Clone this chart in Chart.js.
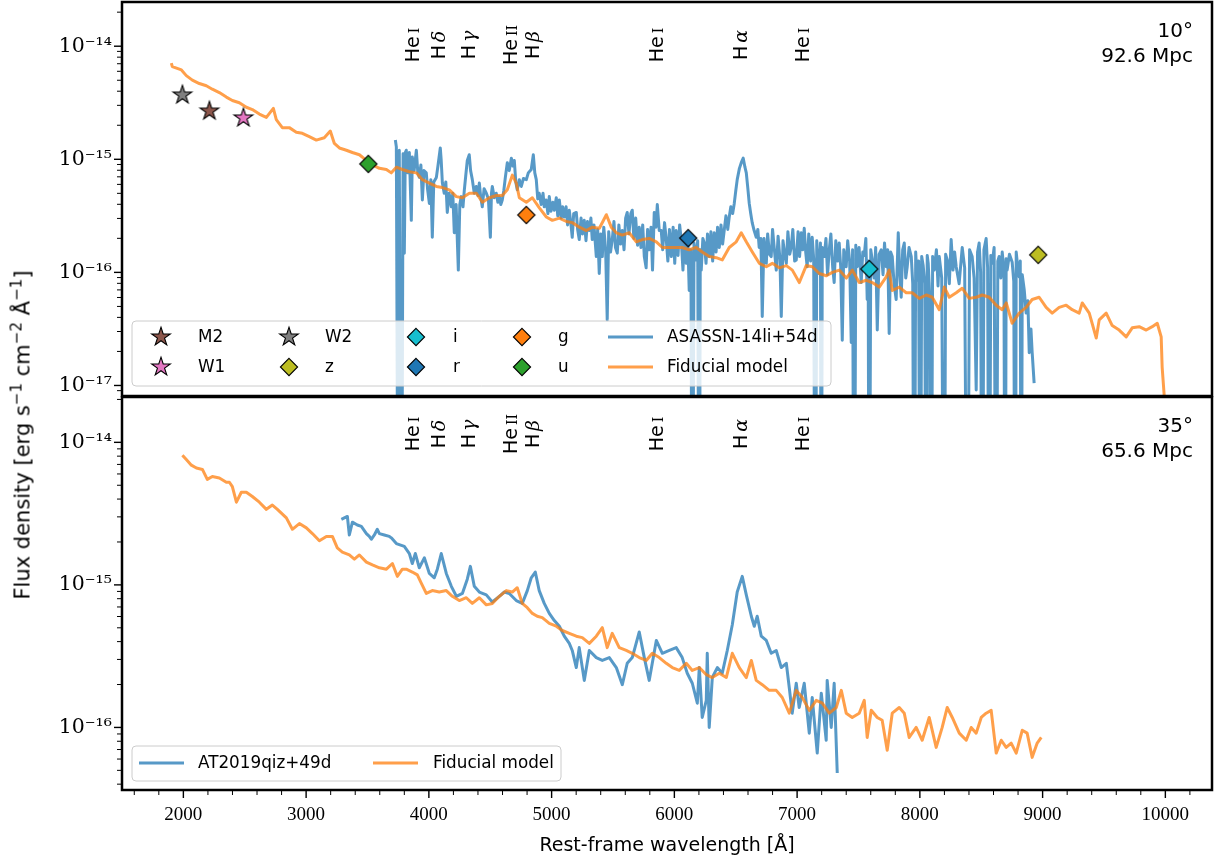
<!DOCTYPE html>
<html>
<head>
<meta charset="utf-8">
<title>TDE spectra vs fiducial model</title>
<script src="https://cdn.jsdelivr.net/npm/chart.js@4.4.1/dist/chart.umd.min.js"></script>
<style>
  html, body { margin: 0; background: #fff; }
  #fig { position: relative; width: 1216px; height: 861px; overflow: hidden; }
  #topPanel { position: absolute; left: 0; top: 0; }
  #bottomPanel { position: absolute; left: 0; top: 396px; }
  #ylabel {
    position: absolute; left: 21px; top: 435px;
    transform: translate(-50%, -50%) rotate(-90deg);
    font: 21px "DejaVu Sans", sans-serif; white-space: nowrap; color: #000;
  }
  #ylabel sup { font-size: 72%; }
</style>
</head>
<body>
<div id="fig">
  <canvas id="topPanel" width="1216" height="398"></canvas>
  <canvas id="bottomPanel" width="1216" height="465"></canvas>
  <div id="ylabel">Flux density [erg s<sup>−1</sup> cm<sup>−2</sup> Å<sup>−1</sup>]</div>
</div>
<script>
// ---------------- data ----------------
// line identifications (rest wavelength, Å)
const lineNames = ['He I', 'H δ', 'H γ', 'He II', 'H β', 'He I', 'H α', 'He I'];
const lineWaves = [3889, 4102, 4340, 4686, 4861, 5876, 6563, 7065];

// Swift/UVOT + optical photometry, ASASSN-14li
const photBands = ['M2', 'W1', 'W2', 'z', 'i', 'r', 'g', 'u'];
const photWave = [2212, 2489, 1992, 8964, 7588, 6113, 4794, 3507];
const photFlux = [2.67e-15, 2.32e-15, 3.7e-15, 1.43e-16, 1.07e-16, 2.01e-16, 3.22e-16, 9.1e-16];

const panelAngles = ['10°', '35°'];
const panelDistances = ['92.6 Mpc', '65.6 Mpc'];

// top panel: ASASSN-14li +54d (log10 flux); -19.5 marks bad pixels far below the axis
const topObsWave = [3727, 3735, 3751, 3759, 3776, 3790, 3800, 3808, 3816, 3828,
  3841, 3857, 3865, 3880, 3898, 3910, 3922, 3935, 3947, 3960,
  3979, 3990, 4004, 4016, 4028, 4040, 4061, 4075, 4093, 4100,
  4110, 4125, 4138, 4150, 4165, 4183, 4195, 4207, 4222, 4240,
  4252, 4264, 4278, 4289, 4300, 4313, 4329, 4340, 4354, 4370,
  4386, 4400, 4411, 4422, 4435, 4450, 4468, 4485, 4501, 4510,
  4517, 4533, 4549, 4562, 4574, 4586, 4598, 4610, 4623, 4639,
  4655, 4672, 4685, 4696, 4708, 4720, 4737, 4753, 4770, 4794,
  4810, 4834, 4851, 4863, 4875, 4887, 4899, 4915, 4930, 4940,
  4955, 4970, 4981, 4995, 5010, 5022, 5038, 5050, 5063, 5078,
  5090, 5103, 5118, 5130, 5144, 5155, 5168, 5180, 5201, 5212,
  5225, 5240, 5252, 5266, 5280, 5292, 5307, 5320, 5331, 5345,
  5364, 5375, 5388, 5400, 5413, 5425, 5440, 5453, 5465, 5480,
  5494, 5508, 5520, 5535, 5548, 5562, 5576, 5590, 5603, 5616,
  5630, 5645, 5657, 5670, 5685, 5700, 5714, 5728, 5742, 5755,
  5770, 5782, 5795, 5810, 5822, 5836, 5850, 5861, 5877, 5893,
  5905, 5920, 5934, 5947, 5960, 5975, 5990, 6003, 6015, 6030,
  6043, 6056, 6070, 6083, 6097, 6110, 6121, 6135, 6146, 6160,
  6178, 6190, 6203, 6211, 6219, 6232, 6244, 6258, 6270, 6284,
  6298, 6312, 6325, 6340, 6352, 6366, 6380, 6393, 6406, 6420,
  6435, 6447, 6460, 6475, 6488, 6500, 6512, 6530, 6545, 6561,
  6575, 6586, 6598, 6610, 6622, 6634, 6650, 6667, 6680, 6691,
  6705, 6716, 6730, 6749, 6760, 6775, 6789, 6800, 6815, 6830,
  6845, 6860, 6871, 6885, 6900, 6912, 6925, 6940, 6952, 6965,
  6980, 6993, 7008, 7020, 7034, 7045, 7058, 7070, 7082, 7095,
  7110, 7123, 7135, 7148, 7160, 7170, 7180, 7190, 7197, 7205,
  7221, 7235, 7248, 7262, 7275, 7290, 7302, 7315, 7330, 7343,
  7355, 7368, 7380, 7400, 7412, 7428, 7441, 7452, 7465, 7478,
  7490, 7505, 7522, 7535, 7547, 7560, 7571, 7579, 7587, 7600,
  7612, 7628, 7640, 7653, 7668, 7685, 7700, 7712, 7726, 7738,
  7750, 7762, 7775, 7790, 7807, 7824, 7836, 7848, 7860, 7873,
  7885, 7897, 7912, 7930, 7942, 7954, 7966, 7978, 7990, 8003,
  8015, 8027, 8040, 8052, 8060, 8068, 8080, 8092, 8104, 8117,
  8135, 8148, 8158, 8178, 8198, 8210, 8223, 8240, 8255, 8270,
  8283, 8296, 8320, 8345, 8365, 8386, 8405, 8426, 8442, 8459,
  8470, 8483, 8495, 8508, 8522, 8540, 8552, 8565, 8578, 8589,
  8605, 8622, 8635, 8646, 8660, 8671, 8685, 8695, 8703, 8711,
  8730, 8752, 8765, 8777, 8785, 8797, 8809, 8818, 8826, 8834,
  8850, 8866, 8880, 8891, 8905, 8915, 8931];
const topObsLogF = [-14.83, -14.89, -19.5, -14.92, -19.5, -14.95, -15.83, -14.94, -14.92, -15.12,
  -14.94, -15.54, -14.98, -15.10, -14.92, -15.12, -15.16, -15.05, -15.36, -15.10,
  -15.12, -15.27, -15.39, -15.18, -15.69, -15.20, -15.16, -15.05, -14.90, -15.00,
  -15.21, -15.30, -15.20, -15.47, -15.30, -15.42, -15.30, -15.65, -15.40, -15.98,
  -15.40, -15.33, -15.42, -15.27, -15.15, -15.01, -14.96, -15.10, -15.18, -15.30,
  -15.24, -15.32, -15.21, -15.33, -15.42, -15.26, -15.30, -15.35, -15.69, -15.30,
  -15.24, -15.34, -15.30, -15.38, -15.33, -15.40, -15.36, -15.28, -15.16, -15.03,
  -15.10, -14.99, -15.06, -15.01, -15.20, -15.27, -15.18, -15.24, -15.17, -15.18,
  -15.12, -15.09, -14.96, -15.12, -15.18, -15.35, -15.30, -15.40, -15.30, -15.42,
  -15.36, -15.48, -15.33, -15.46, -15.38, -15.45, -15.34, -15.50, -15.36, -15.52,
  -15.42, -15.51, -15.42, -15.58, -15.45, -15.55, -15.69, -15.48, -15.47, -15.62,
  -15.71, -15.52, -15.66, -15.54, -15.72, -15.55, -15.63, -15.52, -15.71, -15.58,
  -15.86, -15.62, -16.01, -15.66, -15.86, -15.60, -15.80, -16.42, -15.64, -15.82,
  -15.71, -15.55, -15.78, -15.83, -15.58, -15.75, -15.63, -15.80, -15.52, -15.47,
  -15.66, -15.48, -15.45, -15.70, -15.52, -15.76, -15.60, -15.78, -15.58, -15.86,
  -15.96, -15.62, -15.80, -15.60, -15.98, -15.47, -15.60, -15.40, -15.63, -15.63,
  -15.80, -15.56, -15.71, -15.90, -15.62, -15.86, -15.60, -15.92, -15.63, -15.85,
  -15.58, -15.71, -15.98, -15.68, -15.92, -15.74, -16.16, -15.80, -19.5, -15.74,
  -15.89, -15.72, -19.5, -15.80, -15.98, -15.70, -15.74, -15.92, -15.66, -15.86,
  -15.64, -15.90, -15.65, -15.82, -15.60, -15.78, -15.58, -15.75, -15.63, -15.50,
  -15.62, -15.51, -15.42, -15.48, -15.39, -15.28, -15.18, -15.08, -15.03, -14.99,
  -15.07, -15.12, -15.25, -15.39, -15.48, -15.56, -15.63, -15.69, -15.62, -15.78,
  -15.70, -16.39, -15.70, -15.92, -15.66, -15.84, -15.86, -15.62, -15.80, -15.98,
  -15.68, -15.88, -16.39, -15.72, -15.85, -15.92, -15.64, -15.84, -15.78, -15.62,
  -15.90, -15.89, -15.64, -15.86, -15.65, -15.80, -15.61, -15.82, -15.95, -15.66,
  -15.90, -15.69, -15.88, -19.5, -15.72, -15.95, -16.01, -15.74, -19.5, -15.78,
  -15.86, -15.70, -16.02, -15.80, -15.66, -15.96, -16.09, -15.72, -15.90, -15.74,
  -15.95, -16.60, -15.80, -15.95, -15.72, -15.90, -16.62, -15.80, -19.5, -15.76,
  -15.95, -15.78, -16.09, -15.82, -15.85, -15.70, -16.24, -15.90, -19.5, -15.80,
  -15.89, -16.05, -15.78, -16.51, -15.84, -15.80, -16.02, -15.74, -15.95, -15.80,
  -16.54, -15.82, -15.86, -16.10, -16.24, -15.65, -16.00, -16.22, -15.80, -15.74,
  -16.05, -15.95, -15.78, -15.86, -16.10, -19.5, -15.82, -16.07, -15.90, -19.5,
  -15.86, -15.94, -16.10, -19.5, -15.85, -15.92, -16.20, -19.5, -15.86, -15.98,
  -15.80, -16.12, -15.86, -16.05, -19.5, -15.84, -15.89, -16.10, -15.71, -15.98,
  -15.82, -15.95, -16.10, -15.78, -15.96, -19.5, -15.80, -15.86, -16.05, -17.04,
  -15.82, -15.74, -16.00, -19.5, -15.80, -15.70, -15.96, -19.5, -15.85, -15.92,
  -15.78, -19.5, -15.90, -15.86, -16.05, -15.82, -15.98, -19.5, -15.88, -15.98,
  -15.84, -15.91, -16.08, -19.5, -15.82, -15.95, -16.04, -15.90, -19.5, -16.02,
  -16.15, -16.36, -16.25, -16.71, -16.50, -16.71, -16.98];

// top panel: fiducial model at 10 deg, 92.6 Mpc (log10 flux)
const topModelWave = [1902, 1910, 1984, 2024, 2073, 2130, 2187, 2236, 2293, 2350,
  2399, 2456, 2513, 2562, 2619, 2676, 2733, 2757, 2806, 2863,
  2920, 2969, 3026, 3083, 3148, 3197, 3230, 3271, 3328, 3377,
  3434, 3491, 3540, 3597, 3654, 3694, 3735, 3784, 3841, 3898,
  3947, 4004, 4061, 4110, 4167, 4224, 4273, 4330, 4387, 4436,
  4493, 4550, 4598, 4639, 4680, 4712, 4737, 4794, 4843, 4900,
  4957, 5006, 5063, 5120, 5169, 5226, 5283, 5332, 5389, 5446,
  5486, 5527, 5576, 5633, 5690, 5739, 5796, 5853, 5902, 5959,
  6016, 6064, 6121, 6178, 6227, 6284, 6341, 6390, 6447, 6504,
  6545, 6586, 6635, 6692, 6749, 6798, 6855, 6912, 6961, 7018,
  7074, 7124, 7181, 7238, 7287, 7344, 7401, 7450, 7506, 7563,
  7612, 7669, 7726, 7750, 7775, 7832, 7889, 7938, 7995, 8052,
  8101, 8158, 8199, 8240, 8296, 8345, 8402, 8459, 8508, 8565,
  8622, 8671, 8704, 8752, 8809, 8866, 8915, 8972, 9029, 9078,
  9135, 9192, 9241, 9298, 9323, 9380, 9437, 9461, 9518, 9567,
  9624, 9681, 9730, 9787, 9844, 9893, 9934, 9966, 9974, 9990,
  10000];
const topModelLogF = [-14.15, -14.18, -14.21, -14.26, -14.30, -14.33, -14.35, -14.38, -14.41, -14.45,
  -14.48, -14.50, -14.54, -14.56, -14.60, -14.63, -14.55, -14.65, -14.72, -14.72,
  -14.76, -14.77, -14.80, -14.83, -14.81, -14.75, -14.86, -14.90, -14.92, -14.94,
  -14.96, -15.01, -15.05, -15.08, -15.09, -15.12, -15.07, -15.09, -15.11, -15.12,
  -15.18, -15.21, -15.24, -15.25, -15.27, -15.33, -15.34, -15.30, -15.30, -15.38,
  -15.34, -15.32, -15.32, -15.27, -15.14, -15.21, -15.34, -15.38, -15.34, -15.43,
  -15.51, -15.54, -15.52, -15.55, -15.56, -15.60, -15.63, -15.60, -15.61, -15.49,
  -15.60, -15.65, -15.67, -15.65, -15.73, -15.71, -15.70, -15.73, -15.78, -15.78,
  -15.78, -15.78, -15.80, -15.78, -15.82, -15.86, -15.87, -15.89, -15.78, -15.73,
  -15.65, -15.73, -15.82, -15.92, -15.95, -15.92, -15.96, -15.94, -15.98, -16.09,
  -15.94, -15.95, -16.01, -16.03, -16.00, -15.98, -16.05, -15.98, -16.09, -16.07,
  -16.09, -16.13, -16.04, -15.98, -16.16, -16.13, -16.18, -16.18, -16.23, -16.20,
  -16.22, -16.33, -16.13, -16.22, -16.18, -16.14, -16.23, -16.22, -16.20, -16.22,
  -16.29, -16.33, -16.27, -16.45, -16.36, -16.31, -16.24, -16.22, -16.31, -16.36,
  -16.31, -16.29, -16.33, -16.36, -16.27, -16.36, -16.58, -16.42, -16.36, -16.47,
  -16.51, -16.57, -16.49, -16.48, -16.51, -16.48, -16.45, -16.57, -16.84, -17.08,
  -19.5];

// bottom panel: AT2019qiz +49d (log10 flux)
const botObsWave = [3287, 3311, 3336, 3352, 3377, 3417, 3450, 3491, 3515, 3531,
  3556, 3580, 3597, 3637, 3678, 3694, 3735, 3800, 3841, 3865,
  3890, 3922, 3963, 4004, 4044, 4069, 4101, 4142, 4183, 4224,
  4273, 4313, 4338, 4370, 4411, 4468, 4517, 4574, 4615, 4655,
  4712, 4761, 4802, 4834, 4867, 4899, 4940, 4981, 5022, 5063,
  5103, 5144, 5168, 5201, 5225, 5266, 5307, 5364, 5413, 5470,
  5527, 5576, 5616, 5657, 5714, 5755, 5795, 5853, 5902, 5959,
  6015, 6064, 6105, 6146, 6187, 6203, 6227, 6260, 6268, 6284,
  6309, 6350, 6390, 6431, 6472, 6512, 6553, 6586, 6627, 6651,
  6675, 6708, 6749, 6789, 6830, 6871, 6912, 6936, 6960, 6993,
  7017, 7058, 7099, 7123, 7164, 7197, 7237, 7245, 7278, 7302,
  7327];
const botObsLogF = [-14.54, -14.53, -14.52, -14.65, -14.56, -14.58, -14.59, -14.64, -14.66, -14.68,
  -14.65, -14.61, -14.64, -14.65, -14.66, -14.67, -14.71, -14.73, -14.78, -14.85,
  -14.78, -14.88, -14.81, -14.92, -14.95, -14.89, -14.78, -14.92, -15.01, -15.08,
  -15.06, -14.96, -14.87, -15.01, -15.05, -15.07, -15.12, -15.08, -15.05, -15.06,
  -15.11, -15.13, -15.04, -14.95, -14.91, -15.04, -15.13, -15.20, -15.25, -15.29,
  -15.36, -15.41, -15.46, -15.58, -15.44, -15.67, -15.46, -15.51, -15.53, -15.51,
  -15.58, -15.70, -15.55, -15.51, -15.33, -15.51, -15.67, -15.39, -15.48, -15.46,
  -15.44, -15.51, -15.62, -15.69, -15.83, -15.58, -15.93, -15.81, -15.48, -16.00,
  -15.65, -15.58, -15.62, -15.46, -15.28, -15.05, -14.94, -15.07, -15.22, -15.29,
  -15.22, -15.36, -15.39, -15.48, -15.46, -15.58, -15.55, -15.72, -15.90, -15.69,
  -15.86, -15.69, -16.04, -15.79, -16.18, -15.76, -16.09, -15.67, -16.00, -15.69,
  -16.32];

// bottom panel: fiducial model at 35 deg, 65.6 Mpc (log10 flux)
const botModelWave = [1992, 2024, 2065, 2106, 2155, 2195, 2236, 2293, 2350, 2375,
  2399, 2432, 2472, 2513, 2562, 2619, 2676, 2725, 2766, 2839,
  2888, 2945, 3002, 3051, 3108, 3165, 3214, 3254, 3295, 3352,
  3393, 3434, 3491, 3540, 3597, 3654, 3703, 3743, 3784, 3816,
  3865, 3906, 3939, 3979, 4028, 4085, 4142, 4191, 4248, 4305,
  4354, 4411, 4468, 4517, 4574, 4631, 4680, 4720, 4761, 4802,
  4843, 4883, 4924, 4981, 5038, 5087, 5144, 5201, 5250, 5307,
  5364, 5413, 5453, 5494, 5551, 5608, 5657, 5714, 5771, 5820,
  5877, 5934, 5983, 6040, 6097, 6146, 6203, 6260, 6309, 6366,
  6423, 6472, 6529, 6586, 6627, 6667, 6716, 6773, 6830, 6879,
  6936, 6993, 7042, 7099, 7156, 7205, 7262, 7319, 7360, 7400,
  7449, 7506, 7547, 7571, 7604, 7653, 7693, 7734, 7775, 7832,
  7873, 7913, 7970, 8019, 8076, 8133, 8182, 8223, 8264, 8321,
  8378, 8418, 8459, 8500, 8540, 8581, 8622, 8663, 8703, 8744,
  8785, 8834, 8874, 8915, 8956, 8989];
const botModelLogF = [-14.09, -14.12, -14.16, -14.18, -14.19, -14.26, -14.24, -14.25, -14.28, -14.28,
  -14.31, -14.42, -14.35, -14.35, -14.38, -14.42, -14.47, -14.44, -14.47, -14.53,
  -14.61, -14.57, -14.60, -14.64, -14.69, -14.66, -14.66, -14.74, -14.77, -14.79,
  -14.82, -14.79, -14.84, -14.86, -14.88, -14.89, -14.85, -14.94, -14.89, -14.89,
  -14.91, -14.93, -14.99, -15.06, -15.04, -15.05, -15.04, -15.08, -15.11, -15.09,
  -15.13, -15.09, -15.14, -15.13, -15.08, -15.04, -15.05, -15.02, -15.13, -15.16,
  -15.20, -15.22, -15.23, -15.27, -15.29, -15.32, -15.34, -15.36, -15.37, -15.41,
  -15.36, -15.30, -15.44, -15.34, -15.44, -15.46, -15.48, -15.51, -15.53, -15.48,
  -15.51, -15.55, -15.58, -15.60, -15.55, -15.60, -15.58, -15.63, -15.65, -15.62,
  -15.65, -15.48, -15.58, -15.65, -15.53, -15.67, -15.70, -15.74, -15.74, -15.79,
  -15.90, -15.74, -15.79, -15.88, -15.81, -15.83, -15.90, -15.86, -15.74, -15.90,
  -15.93, -15.90, -15.81, -16.07, -15.88, -15.93, -15.95, -16.16, -15.90, -15.86,
  -15.90, -16.07, -16.00, -16.09, -15.93, -16.14, -16.00, -15.86, -15.93, -16.04,
  -16.09, -16.00, -16.04, -15.93, -15.90, -15.88, -16.18, -16.09, -16.14, -16.11,
  -16.18, -16.02, -16.04, -16.21, -16.11, -16.07];

// axis ranges and ticks
const xRange = [1500, 10380];
const xMajorTicks = [2000, 3000, 4000, 5000, 6000, 7000, 8000, 9000, 10000];
const yDecades = [1e-18, 1e-17, 1e-16, 1e-15, 1e-14, 1e-13];
const topYRange = [8.07e-18, 2.46e-14];
const botYRange = [3.64e-17, 2.08e-14];

// ---------------- styling ----------------
const SANS = '"DejaVu Sans", sans-serif';
const SERIF = '"DejaVu Serif", serif';
const TICK_SERIF = '"Liberation Serif", serif';
const BLUE = 'rgba(31, 119, 180, 0.75)';
const ORANGE = 'rgba(255, 127, 14, 0.75)';
const photShape = ['star', 'star', 'star', 'diamond', 'diamond', 'diamond', 'diamond', 'diamond'];
const photColor = ['#8c564b', '#e377c2', '#7f7f7f', '#bcbd22', '#17becf', '#1f77b4', '#ff7f0e', '#2ca02c'];

Chart.defaults.font.family = SANS;
Chart.defaults.color = '#000';

const xTickValues = [];
for (let v = 1600; v <= 10200; v += 200) xTickValues.push(v);
const yTickValues = [];
yDecades.forEach(d => { for (let k = 1; k <= 9; k++) yTickValues.push(k * d); });

const SUP = { '-': '\u207b', '0': '\u2070', '1': '\u00b9', '2': '\u00b2', '3': '\u00b3', '4': '\u2074',
  '5': '\u2075', '6': '\u2076', '7': '\u2077', '8': '\u2078', '9': '\u2079' };

function isDecade(v) {
  const e = Math.log10(v);
  return Math.abs(e - Math.round(e)) < 1e-6;
}
function decadeLabel(v) {
  if (!isDecade(v)) return '';
  return '10' + String(Math.round(Math.log10(v))).split('').map(c => SUP[c]).join('');
}

function toPoints(waves, logs) {
  return waves.map((w, i) => ({ x: w, y: Math.pow(10, logs[i]) }));
}

// filled marker with a thin black edge, used as a point style image
function makeMarker(shape, color) {
  const c = document.createElement('canvas');
  c.width = 24; c.height = 24;
  const g = c.getContext('2d');
  g.translate(12, 12);
  g.beginPath();
  if (shape === 'star') {
    const R = 9.8, r = R * 0.382;
    for (let k = 0; k < 10; k++) {
      const rad = k % 2 ? r : R;
      const a = -Math.PI / 2 + k * Math.PI / 5;
      g.lineTo(rad * Math.cos(a), rad * Math.sin(a));
    }
  } else {
    const h = 8.6;
    g.moveTo(0, -h); g.lineTo(h, 0); g.lineTo(0, h); g.lineTo(-h, 0);
  }
  g.closePath();
  g.fillStyle = color;
  g.fill();
  g.lineWidth = 1.1;
  g.strokeStyle = '#000';
  g.stroke();
  return c;
}

function spectrum(label, data, color, order) {
  return {
    label, data, order,
    borderColor: color, backgroundColor: color,
    borderWidth: 3, pointRadius: 0, tension: 0, fill: false,
    borderJoinStyle: 'round', clip: 0
  };
}

// rotated "He I", "H α" style labels: element in sans, ion stage / greek letter in serif
function drawLineLabel(ctx, px, py, name) {
  const [el, ion] = name.split(' ');
  const greek = /[\u03b1-\u03c9]/.test(ion);
  const parts = [
    [el, '19px ' + SANS],
    [' ', '9px ' + SANS],
    [ion, greek ? 'italic 19px ' + SERIF : '14px ' + SERIF]
  ];
  let total = 0;
  const widths = parts.map(([t, f]) => {
    ctx.font = f;
    const w = ctx.measureText(t).width;
    total += w;
    return w;
  });
  ctx.save();
  ctx.translate(px, py);
  ctx.rotate(-Math.PI / 2);
  ctx.textAlign = 'left';
  ctx.textBaseline = 'alphabetic';
  let pos = -total / 2;
  parts.forEach(([t, f], i) => {
    ctx.font = f;
    ctx.fillText(t, pos, 7);
    pos += widths[i];
  });
  ctx.restore();
}

function drawLegend(ctx, chart, lg) {
  const [bx, by, bw, bh] = lg.box;
  ctx.beginPath();
  ctx.roundRect(bx, by, bw, bh, 4);
  ctx.fillStyle = 'rgba(255, 255, 255, 0.8)';
  ctx.fill();
  ctx.lineWidth = 1;
  ctx.strokeStyle = '#cccccc';
  ctx.stroke();
  lg.items.forEach(it => {
    const ds = chart.data.datasets[it.index];
    if (ds.showLine === false) {
      const img = ds.pointStyle;
      ctx.drawImage(img, it.x - img.width / 2, it.y - img.height / 2);
    } else {
      ctx.beginPath();
      ctx.moveTo(it.x, it.y);
      ctx.lineTo(it.x + 45, it.y);
      ctx.strokeStyle = ds.borderColor;
      ctx.lineWidth = ds.borderWidth;
      ctx.stroke();
    }
    ctx.font = '16.8px ' + SANS;
    ctx.textAlign = 'left';
    ctx.textBaseline = 'middle';
    ctx.fillStyle = '#000';
    ctx.fillText(ds.label, it.tx, it.y + 1);
  });
}

function panelDecor(cfg) {
  return {
    id: 'panelDecor',
    afterDatasetsDraw(chart) {
      const { ctx, chartArea: a, scales: { x, y } } = chart;
      ctx.save();
      ctx.fillStyle = '#000';
      lineWaves.forEach((w, i) => drawLineLabel(ctx, x.getPixelForValue(w) - 3, a.top + cfg.labelOffset, lineNames[i]));

      ctx.font = '20px ' + SANS;
      ctx.textAlign = 'right';
      ctx.textBaseline = 'middle';
      ctx.fillText(cfg.angle, a.right - 19, a.top + 30);
      ctx.fillText(cfg.distance, a.right - 19, a.top + 55);

      drawLegend(ctx, chart, cfg.legend);

      // axes frame
      ctx.strokeStyle = '#000';
      ctx.lineWidth = 2.5;
      ctx.strokeRect(a.left, a.top, a.right - a.left, a.bottom - a.top);

      // outward tick marks, long on decades / thousands
      y.ticks.forEach(t => {
        const py = y.getPixelForValue(t.value);
        if (py < a.top - 0.5 || py > a.bottom + 0.5) return;
        const major = isDecade(t.value);
        ctx.lineWidth = major ? 1.4 : 1;
        ctx.beginPath();
        ctx.moveTo(a.left - 1, py);
        ctx.lineTo(a.left - (major ? 8 : 5), py);
        ctx.stroke();
      });
      if (cfg.xTicks) {
        x.ticks.forEach(t => {
          const px = x.getPixelForValue(t.value);
          if (px < a.left || px > a.right) return;
          const major = t.value % 1000 === 0;
          ctx.lineWidth = major ? 1.4 : 1;
          ctx.beginPath();
          ctx.moveTo(px, a.bottom + 1);
          ctx.lineTo(px, a.bottom + (major ? 8 : 5));
          ctx.stroke();
        });
      }
      ctx.restore();
    }
  };
}

function panelOptions(yRange, showX, padding) {
  const x = {
    type: 'linear', min: xRange[0], max: xRange[1], bounds: 'data', display: showX,
    grid: { display: false, drawTicks: false }, border: { display: false },
    afterBuildTicks: s => { s.ticks = xTickValues.map(v => ({ value: v })); },
    ticks: {
      autoSkip: false, maxRotation: 0, minRotation: 0, padding: 14, color: '#000',
      font: { family: TICK_SERIF, size: 19 },
      callback: v => (xMajorTicks.includes(v) ? String(v) : '')
    },
    title: {
      display: showX, text: 'Rest-frame wavelength [Å]', color: '#000',
      font: { family: SANS, size: 19 }, padding: { top: 0, bottom: 4 }
    }
  };
  if (showX) {
    x.afterFit = s => { s.height = 71; s.paddingLeft = 0; s.paddingRight = 0; };
  }
  return {
    responsive: false, animation: false, devicePixelRatio: 1, events: [],
    layout: { padding, autoPadding: false },
    plugins: { legend: { display: false }, tooltip: { enabled: false } },
    scales: {
      x,
      y: {
        type: 'logarithmic', min: yRange[0], max: yRange[1], bounds: 'data',
        grid: { display: false, drawTicks: false }, border: { display: false },
        afterBuildTicks: s => {
          s.ticks = yTickValues.filter(v => v >= s.min && v <= s.max).map(v => ({ value: v }));
        },
        afterFit: s => { s.width = 122; s.paddingTop = 0; s.paddingBottom = 0; },
        ticks: {
          autoSkip: false, padding: 10, color: '#000',
          font: { family: SERIF, size: 20.5 },
          callback: v => decadeLabel(v)
        }
      }
    }
  };
}

// ---------------- top panel ----------------
const topDatasets = photBands.map((b, i) => ({
  label: b,
  data: [{ x: photWave[i], y: photFlux[i] }],
  showLine: false, pointStyle: makeMarker(photShape[i], photColor[i]),
  pointRadius: 10, order: 0
}));
topDatasets.push(spectrum('ASASSN-14li+54d', toPoints(topObsWave, topObsLogF), BLUE, 3));
topDatasets.push(spectrum('Fiducial model', toPoints(topModelWave, topModelLogF), ORANGE, 2));

const legendCols = [[161, 198], [289, 325], [416, 453], [522, 558], [608, 667]];
const legendRows = [337, 367];
const topLegendItems = topDatasets.map((d, i) => ({
  index: i,
  x: legendCols[Math.floor(i / 2)][0],
  tx: legendCols[Math.floor(i / 2)][1],
  y: legendRows[i % 2]
}));

new Chart(document.getElementById('topPanel'), {
  type: 'line',
  data: { datasets: topDatasets },
  options: panelOptions(topYRange, false, { left: 0, right: 4, top: 2, bottom: 2 }),
  plugins: [panelDecor({
    labelOffset: 43, angle: panelAngles[0], distance: panelDistances[0], xTicks: false,
    legend: { box: [132, 321, 699, 65], items: topLegendItems }
  })]
});

// ---------------- bottom panel ----------------
const botDatasets = [
  spectrum('AT2019qiz+49d', toPoints(botObsWave, botObsLogF), BLUE, 3),
  spectrum('Fiducial model', toPoints(botModelWave, botModelLogF), ORANGE, 2)
];

new Chart(document.getElementById('bottomPanel'), {
  type: 'line',
  data: { datasets: botDatasets },
  options: panelOptions(botYRange, true, { left: 0, right: 4, top: 1, bottom: 0 }),
  plugins: [panelDecor({
    labelOffset: 37, angle: panelAngles[1], distance: panelDistances[1], xTicks: true,
    legend: {
      box: [132, 350, 429, 35],
      items: [{ index: 0, x: 139, tx: 198, y: 367 }, { index: 1, x: 373, tx: 433, y: 367 }]
    }
  })]
});
</script>
</body>
</html>
